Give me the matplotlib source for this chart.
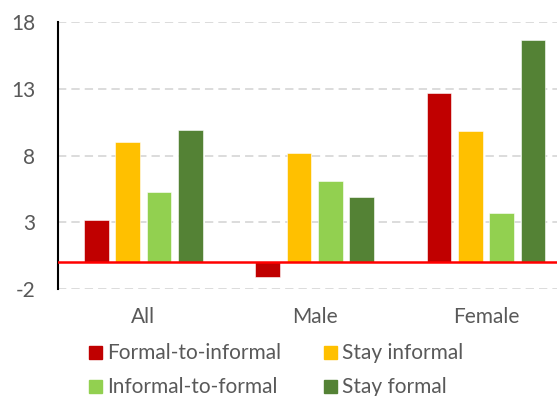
import matplotlib.pyplot as plt
import numpy as np
from matplotlib.patches import Rectangle

plt.rcParams['font.family'] = ['Lato', 'DejaVu Sans']
plt.rcParams['axes.unicode_minus'] = False

groups = ['All', 'Male', 'Female']
series = ['Formal-to-informal', 'Stay informal', 'Informal-to-formal', 'Stay formal']
values = {
    'Formal-to-informal': [3.2, -1.1, 12.7],
    'Stay informal': [9.0, 8.2, 9.85],
    'Informal-to-formal': [5.25, 6.1, 3.7],
    'Stay formal': [9.95, 4.9, 16.7],
}
colors = ['#C00000', '#FFC000', '#92D050', '#548235']
yticks = [-2, 3, 8, 13, 18]

W, H = 557, 396
fig = plt.figure(figsize=(W / 100, H / 100), dpi=100)
# plot area runs a little past the right edge of the canvas
ax = fig.add_axes([57.7 / W, (H - 289) / H, 514 / W, 266.7 / H])

x = np.arange(len(groups))
step = 0.183
for i, name in enumerate(series):
    ax.bar(x + (i - 1.5) * step, values[name], width=0.143, color=colors[i],
           edgecolor='white', linewidth=0.4, zorder=3)

ax.axhline(0, color='#FF0000', lw=1.8, zorder=4)
ax.set_xlim(-0.5, 2.5)
ax.set_ylim(-2, 18)
ax.set_yticks(yticks)
ax.set_xticks(x)
ax.set_xticklabels(groups)
ax.yaxis.grid(True, color='#D9D9D9', lw=1.3, linestyle=(0, (4.6, 2.8)), zorder=0)
ax.tick_params(axis='both', length=0, labelsize=15, colors='#595959')
ax.tick_params(axis='y', pad=16)
ax.tick_params(axis='x', pad=13)
for s in ['top', 'right', 'bottom']:
    ax.spines[s].set_visible(False)
ax.spines['left'].set_color('black')
ax.spines['left'].set_linewidth(1.5)

# two-column legend under the axis
col_x = [89, 324]
row_y = [352.7, 386.7]
for i, name in enumerate(series):
    cx = col_x[i % 2]
    cy = row_y[i // 2]
    fig.patches.append(Rectangle((cx / W, (H - cy - 6.5) / H), 13 / W, 13 / H,
                                 transform=fig.transFigure, color=colors[i]))
    fig.text((cx + 18.5) / W, (H - cy) / H, name, fontsize=15, color='#595959',
             va='center', ha='left')

fig.savefig('out.png', dpi=100)
